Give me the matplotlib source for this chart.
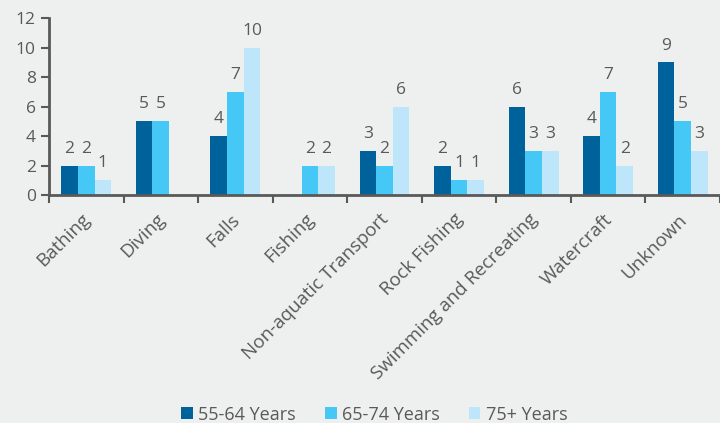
import matplotlib
matplotlib.use("Agg")
import matplotlib.pyplot as plt
import matplotlib.transforms as mtransforms
import numpy as np

categories = ["Bathing", "Diving", "Falls", "Fishing", "Non-aquatic Transport",
              "Rock Fishing", "Swimming and Recreating", "Watercraft", "Unknown"]
age_55_64 = [2, 5, 4, 0, 3, 2, 6, 4, 9]
age_65_74 = [2, 5, 7, 2, 2, 1, 3, 7, 5]
age_75_plus = [1, 0, 10, 2, 6, 1, 3, 2, 3]
series_names = ["55-64 Years", "65-74 Years", "75+ Years"]
colors = ["#00629B", "#45C8F5", "#BEE6FA"]

bg = "#EEF0EF"
grey = "#595959"
plt.rcParams['font.family'] = ['Open Sans', 'DejaVu Sans']

fig = plt.figure(figsize=(7.2, 4.23), dpi=100, facecolor=bg)
ax = fig.add_axes([0.068, 0.539, 0.932, 0.418], facecolor=bg)

x = np.arange(len(categories))
w = 0.223
for i, (vals, name, c) in enumerate(zip([age_55_64, age_65_74, age_75_plus], series_names, colors)):
    pos = x + (i - 1) * w
    ax.bar(pos, vals, width=w, color=c, label=name)
    # value labels, zeros left blank like the original
    for p, v in zip(pos, vals):
        if v > 0:
            ax.text(p, v + 0.6, str(v), ha="center", va="bottom", fontsize=12.5, color=grey)

ax.set_xlim(-0.5, len(categories) - 0.5)
ax.set_ylim(0, 12)
ax.set_yticks(range(0, 13, 2))
# tick marks between categories, labels at the centres
ax.set_xticks(np.arange(-0.5, len(categories), 1.0))
ax.set_xticklabels([])
ax.set_xticks(x, minor=True)
ax.set_xticklabels(categories, minor=True, rotation=45, ha="right", rotation_mode="anchor")
ax.tick_params(axis="x", which="minor", length=0, labelsize=13.5, labelcolor=grey, pad=6)
ax.tick_params(axis="x", which="major", length=6, width=1.5, color=grey)
ax.tick_params(axis="y", length=6, width=1.5, color=grey, labelsize=12.5, labelcolor=grey)

# nudge category labels a little left and down
shift = mtransforms.ScaledTranslation(-5 / 100, -7 / 100, fig.dpi_scale_trans)
for lbl in ax.get_xticklabels(minor=True):
    lbl.set_transform(lbl.get_transform() + shift)

for s in ["top", "right"]:
    ax.spines[s].set_visible(False)
for s in ["left", "bottom"]:
    ax.spines[s].set_color(grey)
    ax.spines[s].set_linewidth(2)

fig.legend(loc="lower center", bbox_to_anchor=(0.52, -0.04), ncol=3, frameon=False,
           fontsize=13, labelcolor=grey, handlelength=0.65, handleheight=0.65,
           handletextpad=0.3, columnspacing=1.6)

fig.savefig("out.png", dpi=100, facecolor=bg)
